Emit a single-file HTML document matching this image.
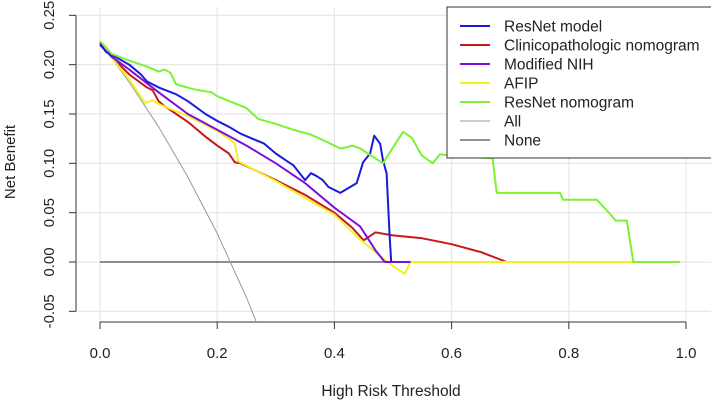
<!DOCTYPE html>
<html><head><meta charset="utf-8"><style>
html,body{margin:0;padding:0;background:#fff}
svg{display:block;font-family:"Liberation Sans",Arial,sans-serif}
</style></head><body>
<svg id="c" width="711" height="401">
<defs><clipPath id="clip"><rect x="77" y="5" width="634" height="317"/></clipPath></defs>
<g id="grid"></g>
<g id="axes"></g>
<g id="series" clip-path="url(#clip)"></g>
<g id="legend"></g>
</svg>
<script>
const xTicks=[0,0.2,0.4,0.6,0.8,1.0];
const xTickLabels=["0.0","0.2","0.4","0.6","0.8","1.0"];
const yTicks=[-0.05,0,0.05,0.1,0.15,0.2,0.25];
const yTickLabels=["-0.05","0.00","0.05","0.10","0.15","0.20","0.25"];
const seriesNames=["ResNet model","Clinicopathologic nomogram","Modified NIH","AFIP","ResNet nomogram","All","None"];
const seriesColors=["#1a1adf","#c8181c","#7a10e0","#f5f020","#7cf232","#999999","#222222"];
const resnetX=[0,0.01,0.02,0.05,0.07,0.08,0.1,0.13,0.15,0.18,0.2,0.22,0.24,0.26,0.28,0.3,0.32,0.33,0.35,0.36,0.37,0.38,0.39,0.41,0.438,0.449,0.461,0.468,0.478,0.483,0.489,0.494,0.497];
const resnetY=[0.222,0.213,0.21,0.2,0.19,0.183,0.177,0.17,0.163,0.15,0.143,0.137,0.13,0.125,0.12,0.11,0.102,0.098,0.083,0.09,0.087,0.083,0.076,0.07,0.08,0.101,0.11,0.128,0.12,0.103,0.09,0.029,0];
const clinX=[0.02,0.05,0.08,0.09,0.1,0.11,0.15,0.18,0.2,0.22,0.23,0.24,0.3,0.35,0.4,0.43,0.45,0.47,0.5,0.55,0.6,0.65,0.694];
const clinY=[0.208,0.19,0.177,0.174,0.163,0.158,0.142,0.127,0.118,0.11,0.101,0.1,0.083,0.068,0.05,0.035,0.022,0.03,0.027,0.024,0.018,0.01,0];
const nihX=[0,0.02,0.05,0.1,0.15,0.2,0.25,0.3,0.35,0.4,0.444,0.47,0.486,0.53];
const nihY=[0.22,0.208,0.195,0.172,0.15,0.134,0.118,0.1,0.08,0.055,0.036,0.012,0,0];
const afipX=[0,0.02,0.05,0.077,0.09,0.1,0.15,0.2,0.22,0.23,0.236,0.3,0.35,0.4,0.44,0.48,0.5,0.52,0.53,0.91];
const afipY=[0.222,0.207,0.185,0.161,0.164,0.16,0.148,0.133,0.125,0.12,0.102,0.082,0.065,0.048,0.025,0.005,-0.004,-0.012,0,0];
const nomoX=[0,0.02,0.05,0.08,0.1,0.11,0.12,0.13,0.16,0.19,0.2,0.25,0.27,0.3,0.33,0.36,0.39,0.41,0.42,0.43,0.444,0.483,0.517,0.532,0.549,0.568,0.58,0.62,0.67,0.677,0.785,0.79,0.848,0.87,0.88,0.899,0.91,0.99];
const nomoY=[0.224,0.211,0.204,0.198,0.193,0.195,0.192,0.18,0.175,0.172,0.168,0.156,0.145,0.14,0.134,0.129,0.121,0.115,0.116,0.118,0.115,0.1,0.132,0.126,0.108,0.1,0.109,0.107,0.105,0.07,0.07,0.063,0.063,0.049,0.042,0.042,0,0];
const allX=[0,0.05,0.1,0.15,0.2,0.25,0.3];
const allY=[0.223,0.182,0.137,0.086,0.029,-0.036,-0.11];
const noneX=[0,0.99];
const noneY=[0,0];
const seriesX=[resnetX,clinX,nihX,afipX,nomoX,allX,noneX];
const seriesY=[resnetY,clinY,nihY,afipY,nomoY,allY,noneY];

const NS="http://www.w3.org/2000/svg";
const sx=v=>100+v*586;
const sy=v=>262-v*986.7;
function mk(tag,attrs,parent,text){const e=document.createElementNS(NS,tag);for(const k in attrs)e.setAttribute(k,attrs[k]);if(text!==undefined)e.textContent=text;parent.appendChild(e);return e;}
const grid=document.getElementById('grid'),axes=document.getElementById('axes'),ser=document.getElementById('series'),leg=document.getElementById('legend');
xTicks.forEach(t=>{const l=mk('line',{x1:sx(t),x2:sx(t),y1:7,y2:322,stroke:'#e6e6e6','stroke-width':1.2},grid);

});
yTicks.forEach(t=>{const l=mk('line',{x1:77,x2:711,y1:sy(t),y2:sy(t),stroke:'#e6e6e6','stroke-width':1.2},grid);

});
let a=mk('line',{x1:76,x2:76,y1:sy(0.25),y2:sy(-0.05),stroke:'#333','stroke-width':1},axes);


yTicks.forEach((t,i)=>{mk('line',{x1:69,x2:76,y1:sy(t),y2:sy(t),stroke:'#333'},axes);
const tx=mk('text',{x:0,y:0,transform:`translate(54,${sy(t)}) rotate(-90)`,'text-anchor':'middle','font-size':15,fill:'#222'},axes,yTickLabels[i]);

});
a=mk('line',{x1:sx(0),x2:sx(1),y1:322,y2:322,stroke:'#333','stroke-width':1},axes);


xTicks.forEach((t,i)=>{mk('line',{x1:sx(t),x2:sx(t),y1:322,y2:329,stroke:'#333'},axes);
const tx=mk('text',{x:sx(t),y:358,'text-anchor':'middle','font-size':15,fill:'#222'},axes,xTickLabels[i]);

});
let tt=mk('text',{x:391,y:396,'text-anchor':'middle','font-size':15.5,fill:'#222'},axes,'High Risk Threshold');


tt=mk('text',{x:0,y:0,transform:'translate(15,162) rotate(-90)','text-anchor':'middle','font-size':15,fill:'#222'},axes,'Net Benefit');


const order=[6,5,1,3,2,0,4];
order.forEach(i=>{const pts=seriesX[i].map((x,j)=>sx(x).toFixed(1)+','+sy(seriesY[i][j]).toFixed(1)).join(' ');
const p=mk('polyline',{points:pts,fill:'none',stroke:seriesColors[i],'stroke-width':i>=5?1:2,'stroke-linejoin':'round'},ser);

});
const box=mk('rect',{x:447,y:7,width:270,height:151,fill:'#fff',stroke:'#333','stroke-width':1},leg);


seriesNames.forEach((n,i)=>{const y=26+i*19;
const g=mk('g',{},leg);


mk('line',{x1:460,x2:490,y1:y,y2:y,stroke:seriesColors[i],'stroke-width':i>=5?1:2},g);
mk('text',{x:504,y:y+5.5,'font-size':15.5,fill:'#222'},g,n);});
</script>
</body></html>
